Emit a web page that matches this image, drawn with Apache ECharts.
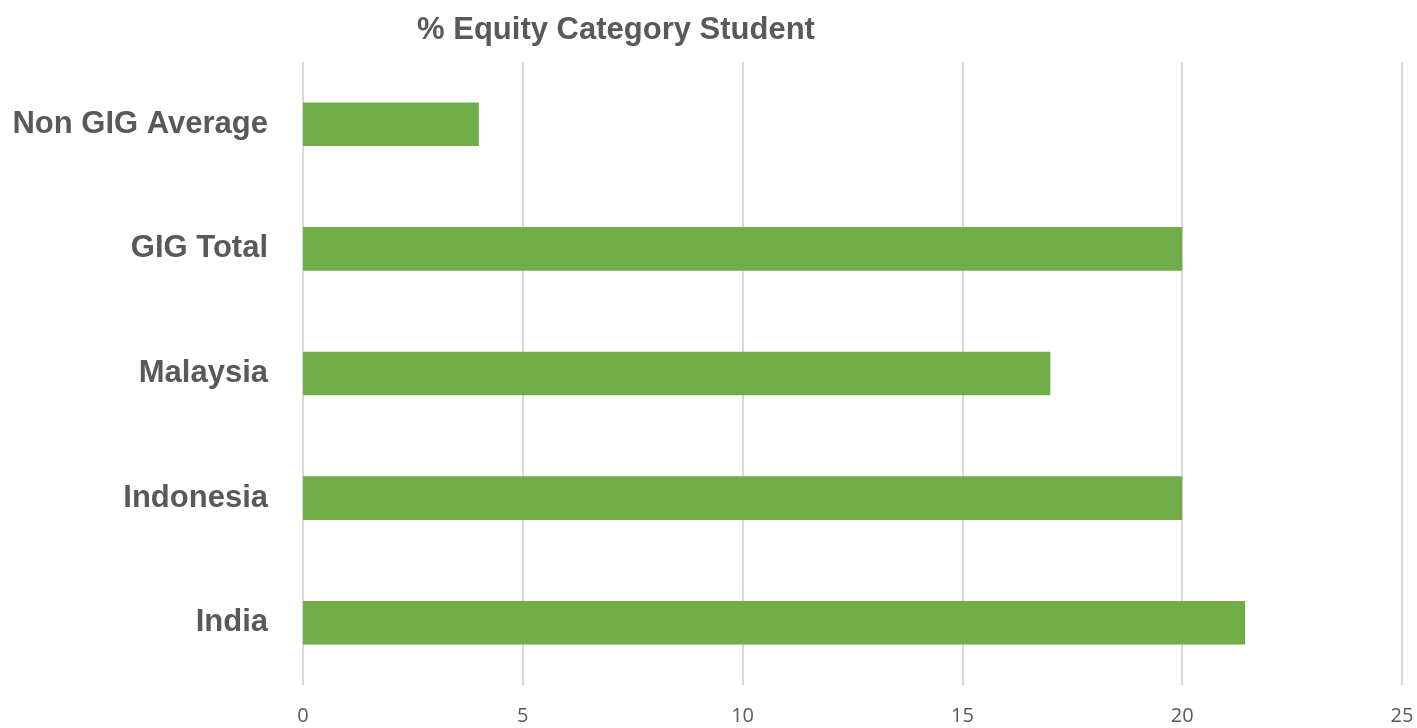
<!DOCTYPE html>
<html>
<head>
<meta charset="utf-8">
<script src="https://cdn.jsdelivr.net/npm/echarts@6/dist/echarts.min.js"></script>
<style>
  html, body { margin: 0; padding: 0; background: #fff; }
  #main { width: 1417px; height: 728px; }
</style>
</head>
<body>
<div id="main"></div>
<script>
var categories = ['India', 'Indonesia', 'Malaysia', 'GIG Total', 'Non GIG Average'];
var values = [21.43, 20, 17, 20, 4];
var narrow = "'Liberation Sans Narrow', 'Arial Narrow', 'Liberation Sans', sans-serif";

var myChart = echarts.init(document.getElementById('main'));

var option = {
  animation: false,
  title: {
    text: '% Equity Category Student',
    left: 611,
    top: 10,
    textAlign: 'center',
    textStyle: {
      fontFamily: narrow,
      fontWeight: 'bold',
      fontSize: 31,
      color: '#595959'
    }
  },
  grid: {
    left: 303,
    right: 15,
    top: 62,
    bottom: 43
  },
  xAxis: {
    type: 'value',
    min: 0,
    max: 25,
    interval: 5,
    axisLine: { show: false },
    axisTick: { show: false },
    axisLabel: {
      fontFamily: "'Open Sans', sans-serif",
      fontSize: 20,
      color: '#595959',
      margin: 21
    },
    splitLine: { lineStyle: { color: '#d9d9d9', width: 2 } }
  },
  yAxis: {
    type: 'category',
    data: categories,
    axisLine: { show: false },
    axisTick: { show: false },
    axisLabel: {
      fontFamily: narrow,
      fontWeight: 'bold',
      fontSize: 31,
      color: '#595959',
      margin: 35
    }
  },
  series: [
    {
      type: 'bar',
      data: values,
      barWidth: '35%',
      itemStyle: { color: '#70ad47' }
    }
  ]
};

myChart.setOption(option);
</script>
</body>
</html>
